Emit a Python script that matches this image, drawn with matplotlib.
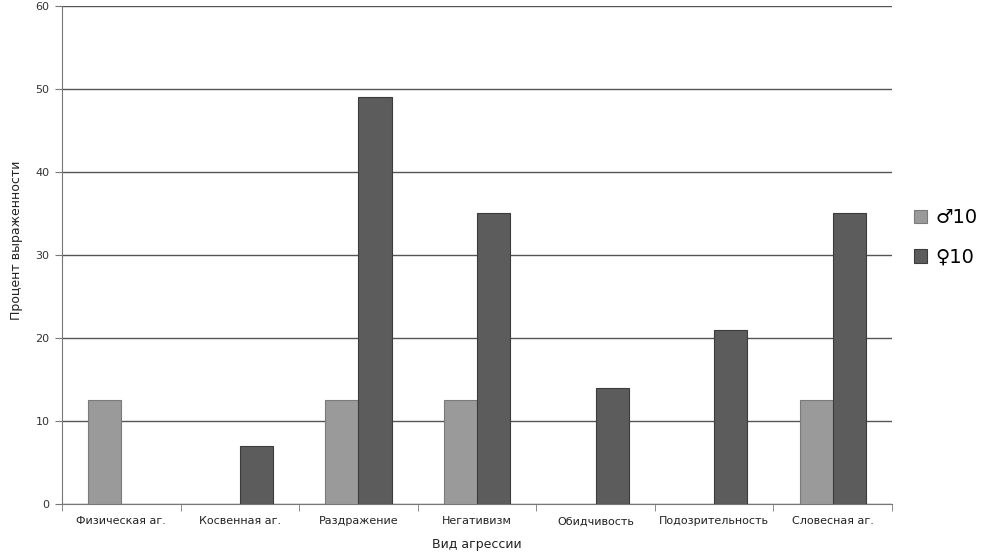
import matplotlib
matplotlib.use("Agg")
import matplotlib.pyplot as plt
from matplotlib.patches import Patch
import numpy as np

categories = ["Физическая аг.", "Косвенная аг.", "Раздражение", "Негативизм",
              "Обидчивость", "Подозрительность", "Словесная аг."]
male = [12.5, 0, 12.5, 12.5, 0, 0, 12.5]
female = [0, 7, 49, 35, 14, 21, 35]
series_labels = ["♂10", "♀10"]
yticks = [0, 10, 20, 30, 40, 50, 60]

male_color, male_edge = "#9a9a9a", "#7a7a7a"
female_color, female_edge = "#5c5c5c", "#3c3c3c"

plt.rcParams['font.family'] = ['DejaVu Sans']
fig = plt.figure(figsize=(9.91, 5.57), dpi=100)
ax = fig.add_axes([0.0626, 0.0952, 0.8375, 0.894])

x = np.arange(len(categories))
w = 0.28
b1 = ax.bar(x - w/2, male, w, color=male_color, edgecolor=male_edge, linewidth=0.8, zorder=3)
b2 = ax.bar(x + w/2, female, w, color=female_color, edgecolor=female_edge, linewidth=0.8, zorder=3)
for cont in (b1, b2):
    for p in cont.patches:
        if p.get_height() == 0:
            p.set_visible(False)

ax.set_xlim(-0.5, len(categories) - 0.5)
ax.set_ylim(0, 60)
ax.set_yticks(yticks)
ax.set_yticklabels([str(v) for v in yticks], fontsize=8, color="#333333")
ax.yaxis.grid(True, color="#555555", linewidth=1.0, zorder=0)
ax.set_axisbelow(True)

ax.set_xticks(x)
ax.set_xticklabels(categories, fontsize=8, color="#222222")
ax.tick_params(axis='x', length=0, pad=9)
ax.set_xticks(np.arange(-0.5, len(categories), 1), minor=True)
ax.tick_params(axis='x', which='minor', length=5, color="#777777", direction='out')
ax.tick_params(axis='y', length=5, color="#777777", direction='out', pad=4)

for s in ["top", "right"]:
    ax.spines[s].set_visible(False)
ax.spines["left"].set_color("#777777")
ax.spines["bottom"].set_color("#777777")

ax.set_xlabel("Вид агрессии", fontsize=9, color="#222222", labelpad=8)
ax.set_ylabel("Процент выраженности", fontsize=9, color="#222222")
ax.yaxis.set_label_coords(-0.047, 0.53)

handles = [Patch(facecolor=male_color, edgecolor=male_edge, linewidth=0.8),
           Patch(facecolor=female_color, edgecolor=female_edge, linewidth=0.8)]
ax.legend(handles, series_labels, loc="center left", bbox_to_anchor=(1.005, 0.535),
          frameon=False, fontsize=14, handlelength=0.7, handleheight=0.7,
          handletextpad=0.4, labelspacing=1.05)

fig.savefig("out.png", dpi=100)
